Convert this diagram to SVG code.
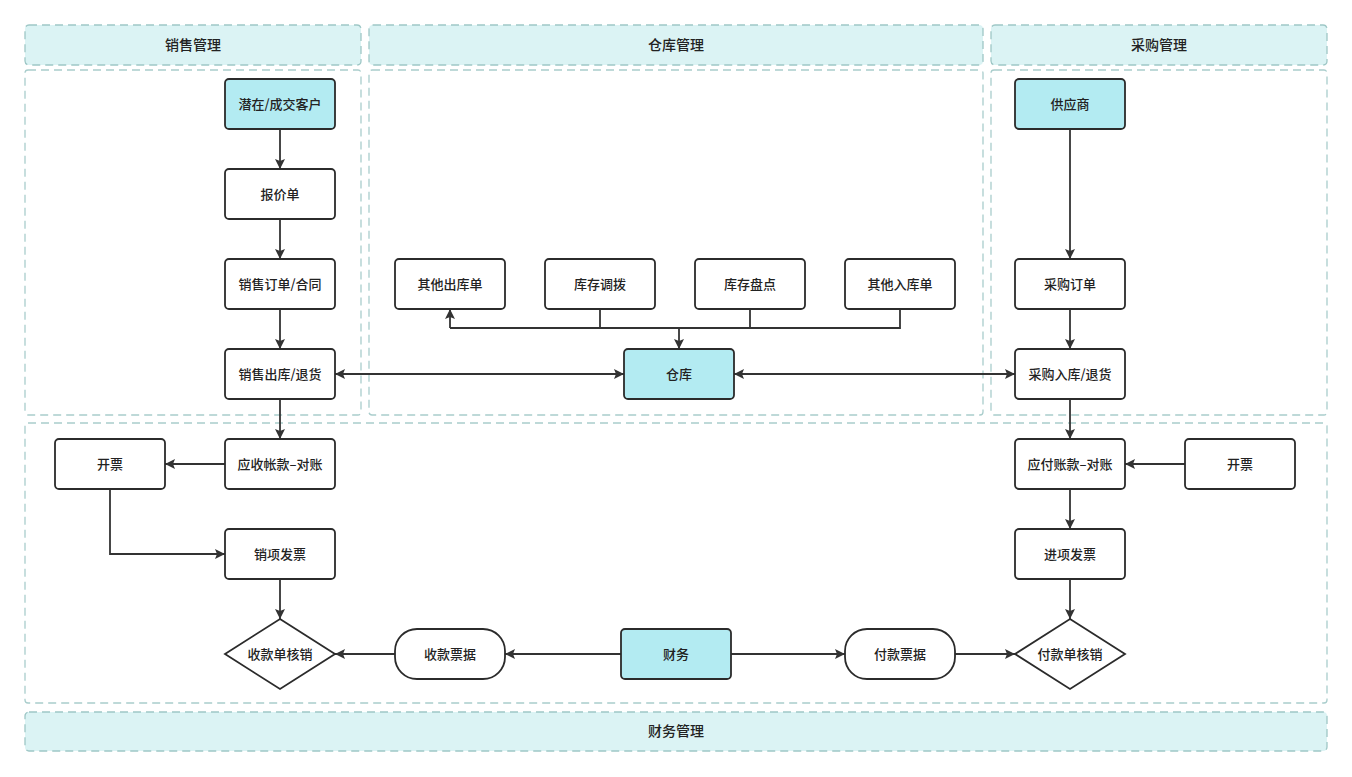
<svg xmlns="http://www.w3.org/2000/svg" width="1352" height="777" viewBox="0 0 1352 777">
<defs>
<style>
.hdr{fill:#dbf3f4;stroke:#9ec7c6;stroke-width:1.3;stroke-dasharray:8 5}
.body{fill:#ffffff;stroke:#a9cdcc;stroke-width:1.3;stroke-dasharray:8 5}
.n{fill:#ffffff;stroke:#2b2b2b;stroke-width:1.8}
.f{fill:#b3ebf2;stroke:#2b2b2b;stroke-width:1.8}
text{font-family:"Noto Sans CJK SC","Noto Sans",sans-serif;font-size:13px;font-weight:500;fill:#222;text-anchor:middle;dominant-baseline:central}
.ht{font-size:14px}
.c{fill:none;stroke:#333;stroke-width:1.8}
</style>
<marker id="a" viewBox="0 0 10 10" refX="10" refY="5" markerWidth="11" markerHeight="10" markerUnits="userSpaceOnUse" orient="auto-start-reverse">
<path d="M0,0 L10,5 L0,10 L2,5 Z" fill="#333"/>
</marker>
</defs>
<rect width="1352" height="777" fill="#ffffff"/>
<g id="lanes">
<rect class="body" x="25" y="70" width="336" height="345" rx="3"/>
<rect class="body" x="369" y="70" width="614" height="345" rx="3"/>
<rect class="body" x="991" y="70" width="336" height="345" rx="3"/>
<rect class="body" x="25" y="423" width="1302" height="280" rx="3"/>
<rect class="hdr" x="25" y="25" width="336" height="40" rx="4"/>
<text class="ht" x="193" y="44">销售管理</text>
<rect class="hdr" x="369" y="25" width="614" height="40" rx="4"/>
<text class="ht" x="676" y="44">仓库管理</text>
<rect class="hdr" x="991" y="25" width="336" height="40" rx="4"/>
<text class="ht" x="1159" y="44">采购管理</text>
<rect class="hdr" x="25" y="712" width="1302" height="39" rx="4"/>
<text class="ht" x="676" y="730">财务管理</text>
</g>
<g id="connectors">
<path class="c" d="M280,129 V169" marker-end="url(#a)"/>
<path class="c" d="M280,219 V259" marker-end="url(#a)"/>
<path class="c" d="M280,309 V349" marker-end="url(#a)"/>
<path class="c" d="M280,399 V439" marker-end="url(#a)"/>
<path class="c" d="M225,464 H165" marker-end="url(#a)"/>
<path class="c" d="M110,489 V554 H225" marker-end="url(#a)"/>
<path class="c" d="M280,579 V619" marker-end="url(#a)"/>
<path class="c" d="M395,654 H335" marker-end="url(#a)"/>
<path class="c" d="M621,654 H505" marker-end="url(#a)"/>
<path class="c" d="M731,654 H845" marker-end="url(#a)"/>
<path class="c" d="M955,654 H1015" marker-end="url(#a)"/>
<path class="c" d="M1070,579 V619" marker-end="url(#a)"/>
<path class="c" d="M1070,489 V529" marker-end="url(#a)"/>
<path class="c" d="M1185,464 H1125" marker-end="url(#a)"/>
<path class="c" d="M1070,399 V439" marker-end="url(#a)"/>
<path class="c" d="M1070,309 V349" marker-end="url(#a)"/>
<path class="c" d="M1070,129 V259" marker-end="url(#a)"/>
<path class="c" d="M335,374 H624" marker-start="url(#a)" marker-end="url(#a)"/>
<path class="c" d="M734,374 H1015" marker-start="url(#a)" marker-end="url(#a)"/>
<path class="c" d="M600,309 V328 M750,309 V328 M900,309 V328 H450"/>
<path class="c" d="M450,328 V309" marker-end="url(#a)"/>
<path class="c" d="M679,328 V349" marker-end="url(#a)"/>
</g>
<g id="n-customer"><rect class="f" x="225" y="79" width="110" height="50" rx="4"/><text x="280" y="103">潜在/成交客户</text></g>
<g id="n-quote"><rect class="n" x="225" y="169" width="110" height="50" rx="4"/><text x="280" y="193">报价单</text></g>
<g id="n-order"><rect class="n" x="225" y="259" width="110" height="50" rx="4"/><text x="280" y="283">销售订单/合同</text></g>
<g id="n-salesout"><rect class="n" x="225" y="349" width="110" height="50" rx="4"/><text x="280" y="373">销售出库/退货</text></g>
<g id="n-ar"><rect class="n" x="225" y="439" width="110" height="50" rx="4"/><text x="280" y="463">应收帐款–对账</text></g>
<g id="n-invoice-l"><rect class="n" x="55" y="439" width="110" height="50" rx="4"/><text x="110" y="463">开票</text></g>
<g id="n-outinv"><rect class="n" x="225" y="529" width="110" height="50" rx="4"/><text x="280" y="553">销项发票</text></g>
<g id="n-recv-verify"><path class="n" d="M280,619 L335,654 L280,689 L225,654 Z"/><text x="280" y="653">收款单核销</text></g>
<g id="n-recv-bill"><rect class="n" x="395" y="629" width="110" height="50" rx="22"/><text x="450" y="653">收款票据</text></g>
<g id="n-finance"><rect class="f" x="621" y="629" width="110" height="50" rx="4"/><text x="676" y="653">财务</text></g>
<g id="n-pay-bill"><rect class="n" x="845" y="629" width="110" height="50" rx="22"/><text x="900" y="653">付款票据</text></g>
<g id="n-pay-verify"><path class="n" d="M1070,619 L1125,654 L1070,689 L1015,654 Z"/><text x="1070" y="653">付款单核销</text></g>
<g id="n-ininv"><rect class="n" x="1015" y="529" width="110" height="50" rx="4"/><text x="1070" y="553">进项发票</text></g>
<g id="n-ap"><rect class="n" x="1015" y="439" width="110" height="50" rx="4"/><text x="1070" y="463">应付账款–对账</text></g>
<g id="n-invoice-r"><rect class="n" x="1185" y="439" width="110" height="50" rx="4"/><text x="1240" y="463">开票</text></g>
<g id="n-purin"><rect class="n" x="1015" y="349" width="110" height="50" rx="4"/><text x="1070" y="373">采购入库/退货</text></g>
<g id="n-purorder"><rect class="n" x="1015" y="259" width="110" height="50" rx="4"/><text x="1070" y="283">采购订单</text></g>
<g id="n-supplier"><rect class="f" x="1015" y="79" width="110" height="50" rx="4"/><text x="1070" y="103">供应商</text></g>
<g id="n-warehouse"><rect class="f" x="624" y="349" width="110" height="50" rx="4"/><text x="679" y="373">仓库</text></g>
<g id="n-otherout"><rect class="n" x="395" y="259" width="110" height="50" rx="4"/><text x="450" y="283">其他出库单</text></g>
<g id="n-transfer"><rect class="n" x="545" y="259" width="110" height="50" rx="4"/><text x="600" y="283">库存调拨</text></g>
<g id="n-count"><rect class="n" x="695" y="259" width="110" height="50" rx="4"/><text x="750" y="283">库存盘点</text></g>
<g id="n-otherin"><rect class="n" x="845" y="259" width="110" height="50" rx="4"/><text x="900" y="283">其他入库单</text></g>
</svg>
